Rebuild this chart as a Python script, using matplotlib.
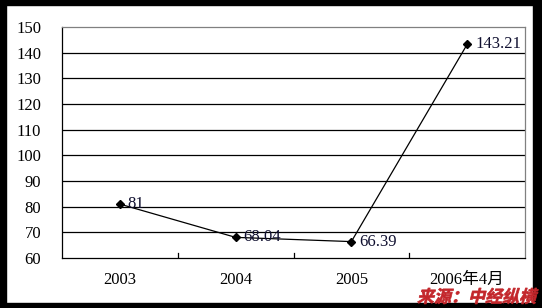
import matplotlib
matplotlib.use("Agg")
import matplotlib.pyplot as plt
from matplotlib.patches import Rectangle, PathPatch
from matplotlib.textpath import TextPath
from matplotlib.font_manager import FontProperties
from matplotlib.transforms import Affine2D

categories = ["2003", "2004", "2005", "2006年4月"]
values = [81, 68.04, 66.39, 143.21]
value_labels = ["81", "68.04", "66.39", "143.21"]
yticks = [60, 70, 80, 90, 100, 110, 120, 130, 140, 150]
source_text = "来源：中经纵横"

W, H = 542, 308
fig = plt.figure(figsize=(W / 100, H / 100), dpi=100)
fig.patch.set_facecolor("white")

# black frame
fig.patches.append(Rectangle((0, 0), 6 / W, 1, transform=fig.transFigure, color="black", zorder=0))
fig.patches.append(Rectangle((0, 1 - 5 / H), 1, 5 / H, transform=fig.transFigure, color="black", zorder=0))
fig.patches.append(Rectangle((1 - 9 / W, 0), 9 / W, 1, transform=fig.transFigure, color="black", zorder=0))
fig.patches.append(Rectangle((0, 0), 1, 5 / H, transform=fig.transFigure, color="black", zorder=0))

left, right, top, bottom = 62, 525, 27, 258
ax = fig.add_axes([left / W, (H - bottom) / H, (right - left) / W, (bottom - top) / H])
ax.set_facecolor("white")

x = list(range(len(categories)))
ax.plot(x, values, color="black", lw=0.9, marker="D", ms=4, mfc="black", mec="black", zorder=3,
        clip_on=False)

serif = ["Liberation Serif", "Noto Sans CJK SC", "DejaVu Serif"]
for xi, v, lab in zip(x, values, value_labels):
    ax.annotate(lab, (xi, v), xytext=(8, 0), textcoords="offset pixels", ha="left", va="center",
                fontsize=12, family=serif, color="#101030", zorder=4)

ax.set_xlim(-0.5, len(categories) - 0.5)
ax.set_ylim(60, 150)
ax.set_yticks(yticks)
ax.set_yticklabels([str(t) for t in yticks], fontsize=12, family=serif)
ax.tick_params(axis="y", length=0, pad=15)

ax.set_xticks(x)
ax.set_xticklabels(categories, fontsize=12, family=serif)
ax.tick_params(axis="x", length=0, pad=10)
# inward boundary ticks between categories
for b in [0.5, 1.5, 2.5]:
    ax.plot([b, b], [60, 61.8], color="black", lw=0.9, zorder=2)

for t in yticks[1:-1]:
    ax.axhline(t, color="black", lw=0.9, zorder=1)

ax.spines["left"].set_color("black")
ax.spines["bottom"].set_color("black")
ax.spines["top"].set_color("#808080")
ax.spines["right"].set_color("#808080")
for s in ax.spines.values():
    s.set_linewidth(0.9)

# watermark with skew (italic)
fp = FontProperties(family="Noto Sans CJK SC", weight="heavy")
tp = TextPath((0, 0), source_text, prop=fp, size=17)
bb = tp.get_extents()
tr = Affine2D().translate(-bb.x0, -bb.y0).skew_deg(14, 0).translate(417, H - 304)
patch = PathPatch(tr.transform_path(tp), facecolor="#c3262b", edgecolor="#c3262b", lw=0.5,
                  zorder=10)
patch.set_transform(Affine2D())  # pixel coords
fig.patches.append(patch)

fig.savefig("out.png", dpi=100, facecolor="white")
